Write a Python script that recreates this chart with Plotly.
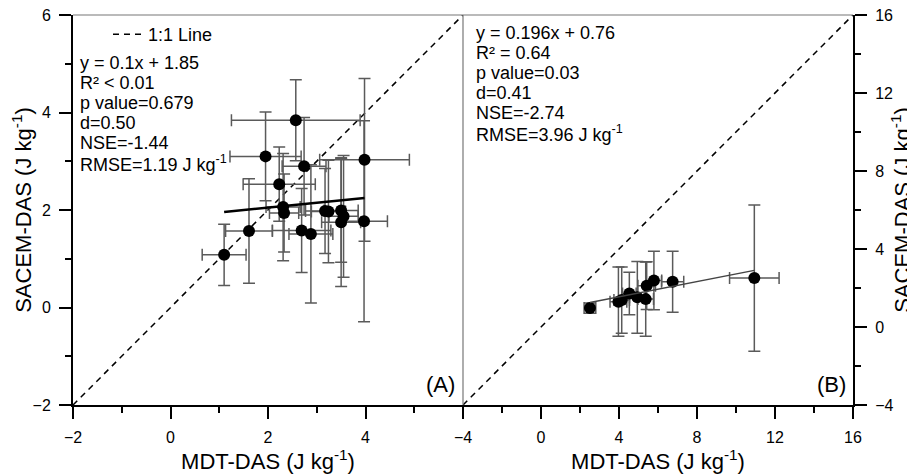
import plotly.graph_objects as go

# ---------------- data ----------------
# Panel (A)
a_x = [2.57, 1.95, 2.74, 2.23, 3.98, 3.97, 2.31, 2.33, 3.17, 3.24, 3.50, 3.55, 3.50, 1.61, 2.69, 2.88, 1.10]
a_y = [3.84, 3.10, 2.90, 2.53, 3.03, 1.77, 2.06, 1.94, 1.98, 1.97, 1.99, 1.87, 1.75, 1.57, 1.58, 1.51, 1.08]
a_xerr = [1.32, 0.73, 0.45, 0.74, 0.92, 0.48, 0.35, 0.30, 0.40, 0.35, 0.35, 0.30, 0.40, 0.48, 0.60, 0.45, 0.45]
a_yerr = [0.83, 0.91, 1.00, 0.76, 1.67, 2.06, 1.10, 0.80, 0.87, 1.05, 1.06, 1.25, 1.32, 1.07, 0.86, 1.42, 0.63]
a_slope, a_intercept = 0.1, 1.85
a_stats = ["y = 0.1x + 1.85", "R² < 0.01", "p value=0.679", "d=0.50", "NSE=-1.44",
           "RMSE=1.19 J kg<sup>-1</sup>"]

# Panel (B)
b_x = [2.51, 3.97, 4.14, 4.53, 4.94, 5.37, 5.42, 5.79, 6.75, 10.94]
b_y = [0.97, 1.30, 1.38, 1.72, 1.52, 1.43, 2.12, 2.38, 2.32, 2.51]
b_xerr = [0.30, 0.43, 0.40, 0.35, 0.40, 0.40, 0.45, 0.40, 0.57, 1.27]
b_yerr = [0.26, 1.78, 1.70, 1.09, 1.84, 1.90, 1.22, 1.50, 1.56, 3.75]
b_slope, b_intercept = 0.196, 0.76
b_stats = ["y = 0.196x + 0.76", "R² = 0.64", "p value=0.03", "d=0.41", "NSE=-2.74",
           "RMSE=3.96 J kg<sup>-1</sup>"]

a_range = [-2, 6]
b_range = [-4, 16]
a_ticks = [-2, 0, 2, 4]
a_yticks = [-2, 0, 2, 4, 6]
b_ticks = [-4, 0, 4, 8, 12, 16]

x_title = "MDT-DAS (J kg<sup>-1</sup>)"
y_title = "SACEM-DAS (J kg<sup>-1</sup>)"
one_to_one_name = "1:1 Line"

# ---------------- figure ----------------
FONT = "Liberation Sans, Arial, sans-serif"
OFF = 8  # page body margin
W, H = 915 - OFF, 474 - OFF
ML, MT = 73 - OFF, 15 - OFF
PW, PH = 780, 390
MR, MB = W - ML - PW, H - MT - PH

fig = go.Figure()

err_style = dict(type="data", color="#5a5a5a", thickness=1.5, width=6)

# 1:1 lines
fig.add_trace(go.Scatter(x=a_range, y=a_range, mode="lines", name=one_to_one_name,
                         line=dict(color="black", width=1.5, dash="6px,5px"),
                         xaxis="x", yaxis="y", showlegend=True))
fig.add_trace(go.Scatter(x=b_range, y=b_range, mode="lines", name=one_to_one_name,
                         line=dict(color="black", width=1.5, dash="6px,5px"),
                         xaxis="x2", yaxis="y2", showlegend=False))

# points with error bars
fig.add_trace(go.Scatter(x=a_x, y=a_y, mode="markers",
                         marker=dict(color="black", size=12),
                         error_x=dict(array=a_xerr, **err_style),
                         error_y=dict(array=a_yerr, **err_style),
                         xaxis="x", yaxis="y", showlegend=False))
fig.add_trace(go.Scatter(x=b_x, y=b_y, mode="markers",
                         marker=dict(color="black", size=12),
                         error_x=dict(array=b_xerr, **err_style),
                         error_y=dict(array=b_yerr, **err_style),
                         xaxis="x2", yaxis="y2", showlegend=False))

# regression lines
ax_line = [min(a_x), max(a_x)]
bx_line = [min(b_x), max(b_x)]
fig.add_trace(go.Scatter(x=ax_line, y=[a_slope * v + a_intercept for v in ax_line],
                         mode="lines", line=dict(color="black", width=2.5),
                         xaxis="x", yaxis="y", showlegend=False))
fig.add_trace(go.Scatter(x=bx_line, y=[b_slope * v + b_intercept for v in bx_line],
                         mode="lines", line=dict(color="#444444", width=1.5),
                         xaxis="x2", yaxis="y2", showlegend=False))


def axis_common(**kw):
    d = dict(showgrid=False, zeroline=False, showline=True, linecolor="black", linewidth=2,
             ticks="outside", ticklen=12, tickwidth=1.5, tickcolor="black", automargin=False,
             ticklabelstandoff=5, ticklabeloverflow="allow",
             tickfont=dict(family=FONT, size=16, color="black"))
    d.update(kw)
    return d


minor_a = dict(ticks="outside", ticklen=6, tickwidth=1.5, tickcolor="black", dtick=1, tick0=0, showgrid=False)
minor_b = dict(ticks="outside", ticklen=6, tickwidth=1.5, tickcolor="black", dtick=2, tick0=0, showgrid=False)

fig.update_layout(
    width=W, height=H,
    margin=dict(l=ML, r=MR, t=MT, b=MB, autoexpand=False),
    paper_bgcolor="white", plot_bgcolor="white",
    font=dict(family=FONT, color="black"),
    xaxis=axis_common(domain=[0, 0.5], range=a_range, tickmode="array", tickvals=a_ticks,
                      minor=minor_a, anchor="y",
                      title=dict(text=x_title, font=dict(size=22), standoff=0)),
    yaxis=axis_common(domain=[0, 1], range=a_range, tickmode="array", tickvals=a_yticks,
                      minor=minor_a, anchor="x", side="left",
                      title=dict(text=y_title, font=dict(size=22), standoff=0)),
    xaxis2=axis_common(domain=[0.5, 1], range=b_range, tickmode="array", tickvals=b_ticks,
                       minor=minor_b, anchor="y2",
                       title=dict(text=x_title, font=dict(size=22), standoff=0)),
    yaxis2=axis_common(domain=[0, 1], range=b_range, tickmode="array", tickvals=b_ticks,
                       minor=minor_b, anchor="x2", side="right",
                       title=dict(text=y_title, font=dict(size=22), standoff=2)),
    legend=dict(x=(108 - 73) / PW, y=(405 - 16) / PH, xanchor="left", yanchor="top",
                bgcolor="rgba(0,0,0,0)", font=dict(family=FONT, size=18, color="black"),
                itemwidth=30),
    showlegend=True,
)

# frame: top line and divider
fig.add_shape(type="line", xref="paper", yref="paper", x0=0, x1=1, y0=1, y1=1,
              line=dict(color="#777777", width=1.2))
fig.add_shape(type="line", xref="paper", yref="paper", x0=0.5, x1=0.5, y0=0, y1=1,
              line=dict(color="#777777", width=1.2))


# positions given in reference-picture pixels (plot area spans x 73..853, y 15..405)
def px_to_paper_x(px):
    return (px - 73) / PW


def px_to_paper_y(py):
    return (405 - py) / PH


for i, t in enumerate(a_stats):
    fig.add_annotation(text=t, xref="paper", yref="paper", x=px_to_paper_x(78),
                       y=px_to_paper_y(63 + 20 * i), xanchor="left", yanchor="middle",
                       showarrow=False, font=dict(family=FONT, size=18, color="black"))
for i, t in enumerate(b_stats):
    fig.add_annotation(text=t, xref="paper", yref="paper", x=px_to_paper_x(474),
                       y=px_to_paper_y(33 + 20 * i), xanchor="left", yanchor="middle",
                       showarrow=False, font=dict(family=FONT, size=18, color="black"))

fig.add_annotation(text="(A)", xref="paper", yref="paper", x=px_to_paper_x(457),
                   y=px_to_paper_y(384), xanchor="right", yanchor="middle",
                   showarrow=False, font=dict(family=FONT, size=22, color="black"))
fig.add_annotation(text="(B)", xref="paper", yref="paper", x=px_to_paper_x(848),
                   y=px_to_paper_y(384), xanchor="right", yanchor="middle",
                   showarrow=False, font=dict(family=FONT, size=22, color="black"))

fig.write_html("out.html")
